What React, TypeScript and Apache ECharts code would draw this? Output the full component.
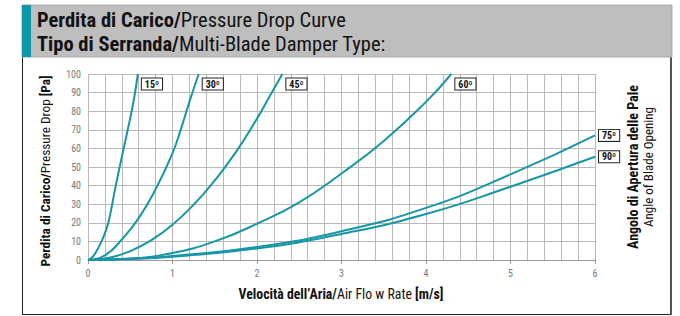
import React, { useEffect, useRef } from "react";
import * as echarts from "echarts";

const angleLabels = ["15º", "30º", "45º", "60º", "75º", "90º"];
const curve15: [number, number][] = [[0, 0], [0.05, 1.5], [0.1, 4.7], [0.16, 10], [0.2, 14.5], [0.24, 20], [0.28, 28.5], [0.32, 38], [0.37, 49], [0.42, 59.5], [0.47, 70], [0.517, 80], [0.555, 89.5], [0.59, 100]];
const curve30: [number, number][] = [[0, 0], [0.2, 2.5], [0.4, 11], [0.6, 22.5], [0.8, 38], [1.0, 57.5], [1.1, 70.5], [1.2, 85], [1.31, 100]];
const curve45: [number, number][] = [[0, 0], [0.25, 1.2], [0.5, 4.8], [0.75, 10.7], [1.0, 19], [1.25, 29.7], [1.5, 42.8], [1.75, 58], [2.0, 76], [2.15, 88], [2.3, 100]];
const curve60: [number, number][] = [[0, 0], [0.5, 0.8], [1.0, 3.8], [1.5, 10], [2.0, 19.5], [2.5, 31], [3.0, 46.5], [3.5, 64], [4.0, 85], [4.3, 100]];
const curve75: [number, number][] = [[0, 0], [0.5, 0.7], [1, 2.2], [2, 7], [3, 15.5], [4, 28], [5, 46], [6, 67]];
const curve90: [number, number][] = [[0, 0], [0.5, 0.5], [1, 1.8], [2, 6.2], [3, 14], [4, 24.7], [5, 39.4], [6, 55.5]];
const curves = [curve15, curve30, curve45, curve60, curve75, curve90];
const topEnding = [true, true, true, true, false, false];

const TEAL = "#1896a6";
const FONT = "'Liberation Sans Narrow', 'Roboto Condensed', Roboto, sans-serif";

export default function App() {
  const ref = useRef<HTMLDivElement>(null);
  useEffect(() => {
    if (!ref.current) return;
    const chart = echarts.init(ref.current, undefined, { renderer: "svg" });
    const series = curves.map((d, i) => ({
      type: "line",
      data: d,
      smooth: 0.5,
      showSymbol: false,
      symbol: "none",
      lineStyle: { color: TEAL, width: 2 },
      endLabel: {
        show: true,
        formatter: angleLabels[i],
        distance: 4,
        offset: topEnding[i] ? [0, 10] : [0, 0],
        backgroundColor: "#fff",
        borderColor: "#222",
        borderWidth: 1,
        padding: [1, 3, 0, 3],
        color: "#111",
        fontWeight: "bold",
        fontSize: 10,
        fontFamily: FONT,
      },
    }));
    const bold = (size: number) => ({ fontFamily: FONT, fontSize: size, fontWeight: "bold", fill: "#111" });
    const reg = (size: number) => ({ fontFamily: FONT, fontSize: size, fill: "#111" });
    chart.setOption({
      animation: false,
      grid: { left: 88, right: 85, top: 74, bottom: 56, containLabel: false },
      xAxis: {
        type: "value",
        min: 0,
        max: 6,
        interval: 1,
        axisLine: { show: true, lineStyle: { color: "#999", width: 1 } },
        axisTick: { show: true, length: 4, lineStyle: { color: "#999" } },
        axisLabel: { color: "#777", fontSize: 10, margin: 8, fontFamily: FONT },
        splitLine: { show: true, lineStyle: { color: "#b9b9b9", width: 1 } },
        minorTick: { show: false, splitNumber: 5 },
        minorSplitLine: { show: true, lineStyle: { color: "#b9b9b9", width: 1 } },
      },
      yAxis: {
        type: "value",
        min: 0,
        max: 100,
        interval: 10,
        axisLine: { show: false },
        axisTick: { show: false },
        axisLabel: { color: "#777", fontSize: 10, margin: 7, fontFamily: FONT },
        splitLine: { show: true, lineStyle: { color: "#b9b9b9", width: 1 } },
      },
      series,
      graphic: [
        { type: "rect", shape: { x: 22, y: 5, width: 650, height: 52 }, style: { fill: "#bebebf", stroke: "#a9a9aa", lineWidth: 1 }, z: 10 },
        { type: "rect", shape: { x: 22, y: 5, width: 9, height: 52 }, style: { fill: "#0f97a8" }, z: 11 },
        {
          type: "text", x: 37, y: 20, z: 12,
          style: {
            text: "{b|Perdita di Carico/}{r|Pressure Drop Curve}",
            verticalAlign: "middle",
            rich: { b: bold(20.5), r: reg(20.5) },
          },
        },
        {
          type: "text", x: 37, y: 44, z: 12,
          style: {
            text: "{b|Tipo di Serranda/}{r|Multi-Blade Damper Type:}",
            verticalAlign: "middle",
            rich: { b: bold(20.5), r: reg(20.5) },
          },
        },
        { type: "line", shape: { x1: 22.5, y1: 57, x2: 22.5, y2: 315 }, style: { stroke: "#222", lineWidth: 1 }, z: 5 },
        { type: "line", shape: { x1: 22, y1: 314.5, x2: 672, y2: 314.5 }, style: { stroke: "#222", lineWidth: 1 }, z: 5 },
        { type: "line", shape: { x1: 671, y1: 57, x2: 671, y2: 315 }, style: { stroke: "#555", lineWidth: 2 }, z: 5 },
        {
          type: "text", x: 45, y: 171, rotation: Math.PI / 2, z: 6,
          style: {
            text: "{b|Perdita di Carico/}{r|Pressure Drop }{b|[Pa]}",
            align: "center",
            verticalAlign: "middle",
            rich: { b: bold(13.3), r: reg(13.3) },
          },
        },
        {
          type: "text", x: 341, y: 294, z: 6,
          style: {
            text: "{b|Velocità dell’Aria/}{r|Air Flo w Rate }{b|[m/s]}",
            align: "center",
            verticalAlign: "middle",
            rich: { b: bold(13.8), r: reg(13.8) },
          },
        },
        {
          type: "text", x: 633, y: 167, rotation: Math.PI / 2, z: 6,
          style: {
            text: "Angolo di Apertura delle Pale",
            align: "center", verticalAlign: "middle",
            ...bold(14),
          },
        },
        {
          type: "text", x: 648, y: 167, rotation: Math.PI / 2, z: 6,
          style: {
            text: "Angle of Blade Opening",
            align: "center", verticalAlign: "middle",
            ...reg(13),
          },
        },
      ],
    });
    return () => chart.dispose();
  }, []);
  return <div ref={ref} style={{ width: 680, height: 316, position: "absolute", left: 0, top: 0 }} />;
}
